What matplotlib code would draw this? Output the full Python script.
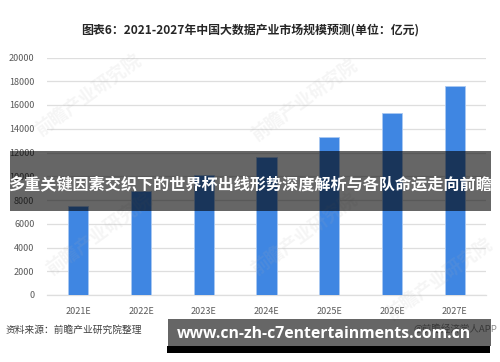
import matplotlib
matplotlib.use("Agg")
import matplotlib.pyplot as plt
from matplotlib.patches import Rectangle

plt.rcParams['font.family'] = ['Noto Sans CJK SC', 'DejaVu Sans']

# data
years = ["2021E", "2022E", "2023E", "2024E", "2025E", "2026E", "2027E"]
market_size = [7500, 8800, 10100, 11600, 13300, 15350, 17600]
y_ticks = [0, 2000, 4000, 6000, 8000, 10000, 12000, 14000, 16000, 18000, 20000]

title = "图表6：2021-2027年中国大数据产业市场规模预测(单位：亿元)"
source = "资料来源：前瞻产业研究院整理"
banner = "多重关键因素交织下的世界杯出线形势深度解析与各队命运走向前瞻"
site = "www.cn-zh-c7entertainments.com.cn"
app_mark = "@前瞻经济学人APP"
watermark = "前瞻产业研究院"

W, H = 500, 362
fig = plt.figure(figsize=(W / 100, H / 100), dpi=100)


def fx(px):
    return px / W


def fy(py):
    return 1 - py / H


ax = fig.add_axes([fx(47), fy(295), fx(486) - fx(47), fy(57.5) - fy(295)])

x = list(range(len(years)))
ax.bar(x, market_size, width=0.32, color="#3f86e2", edgecolor="#a9c8f2",
       linewidth=0.6, zorder=3)
ax.set_xlim(-0.5, len(years) - 0.5)
ax.set_ylim(0, 20000)
ax.set_yticks(y_ticks)
ax.set_yticklabels([str(v) for v in y_ticks])
ax.set_xticks(x)
ax.set_xticklabels(years)
ax.tick_params(axis="both", length=0, labelsize=6.5, labelcolor="#595959")
ax.tick_params(axis="x", pad=9)
ax.tick_params(axis="y", pad=9)
ax.grid(axis="y", color="#dedede", linewidth=0.9, zorder=0)
for s in ["top", "right", "left"]:
    ax.spines[s].set_visible(False)
ax.spines["bottom"].set_color("#dedede")
ax.spines["bottom"].set_linewidth(0.9)

# faint watermarks
for (wx, wy) in [(89, 96), (305, 101), (100, 235), (305, 235), (440, 280)]:
    fig.text(fx(wx), fy(wy), watermark, fontsize=13, color="#b0b0b0", alpha=0.12,
             rotation=36, ha="center", va="center", weight="bold", zorder=4)

fig.text(0.5, fy(30), title, fontsize=8.6, weight="bold", color="#262626",
         ha="center", va="center")
fig.text(fx(6), fy(330), source, fontsize=7, color="#404040", ha="left", va="center")
fig.text(fx(413), fy(329), app_mark, fontsize=6.8, color="#8a8a8a", ha="left",
         va="center", zorder=5)

# dark banner across the middle
fig.patches.append(Rectangle((fx(10), fy(211)), fx(491) - fx(10), fy(151) - fy(211),
                             transform=fig.transFigure, facecolor="black", alpha=0.6,
                             zorder=10))
fig.text(fx(250), fy(184), banner, fontsize=11.6, weight="bold", color="white",
         ha="center", va="center", zorder=11)

# bottom site box
fig.patches.append(Rectangle((fx(168), fy(346)), fx(491) - fx(168), fy(319) - fy(346),
                             transform=fig.transFigure, facecolor="black", alpha=0.6,
                             zorder=10))
fig.patches.append(Rectangle((fx(167), fy(353)), fx(490) - fx(167), fy(346) - fy(353),
                             transform=fig.transFigure, facecolor="black", zorder=10))
fig.text(fx(177), fy(334), site, fontsize=11.3, weight="bold", color="white",
         family=["Open Sans", "DejaVu Sans"], ha="left", va="center", zorder=11)

fig.savefig("out.png", dpi=100)
